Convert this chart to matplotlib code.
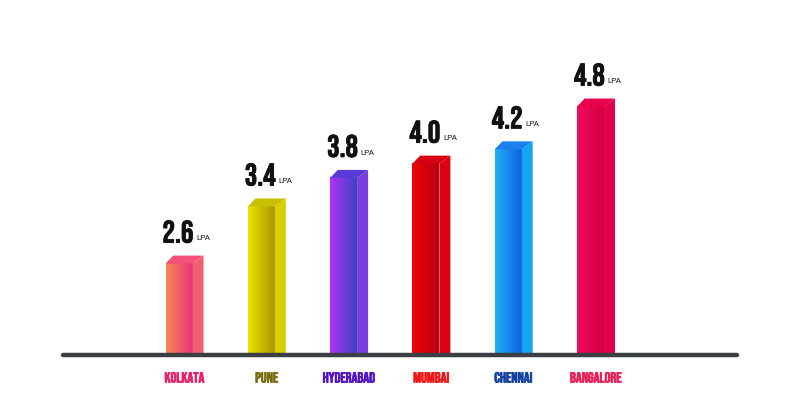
import matplotlib
matplotlib.use("Agg")
import matplotlib.pyplot as plt
import numpy as np
from matplotlib.colors import LinearSegmentedColormap
from matplotlib.patches import Polygon
import matplotlib.patheffects as pe

cities = ["KOLKATA", "PUNE", "HYDERABAD", "MUMBAI", "CHENNAI", "BANGALORE"]
salaries = [2.6, 3.4, 3.8, 4.0, 4.2, 4.8]
unit = "LPA"

front_left = ["#f88650", "#ece400", "#b232f2", "#f20404", "#1fb0f2", "#f20a62"]
front_right = ["#e8337e", "#a89800", "#3e42c6", "#b80014", "#1060e2", "#d40040"]
side_cols = ["#f2606e", "#d8d000", "#7a3ee0", "#dc0012", "#14a6f2", "#e2004e"]
top_cols = ["#f5507a", "#c8c000", "#5a3ad8", "#d80010", "#1a80ee", "#e8004c"]
label_cols = ["#e8206a", "#7a6e10", "#5212c0", "#f01414", "#1440a0", "#e82058"]

cond = ["Bebas Neue", "DejaVu Sans"]

W, H = 800, 395
fig = plt.figure(figsize=(W / 100, H / 100), dpi=100)
# axes: baseline at pixel y=355, x from 60 to 740
ax = fig.add_axes([60 / W, (H - 355) / H, 680 / W, 335 / H])
ymin, ymax = 1.32, 1.32 + 335 / 71.4
x0 = -1.513
x1 = 6.75
ax.set_xlim(x0, x1)
ax.set_ylim(ymin, ymax)
ax.axis("off")

px_x = (x1 - x0) / 680.0  # data units per pixel (x)
px_y = (ymax - ymin) / 335.0

fw = 27 * px_x   # front width
sw = 11 * px_x   # side width
dy = 8 * px_y    # top depth

for i, v in enumerate(salaries):
    cx = i
    L = cx - (fw + sw) / 2
    R = L + fw
    # front face gradient
    cmap = LinearSegmentedColormap.from_list(f"g{i}", [front_left[i], front_right[i]])
    grad = np.linspace(0, 1, 64).reshape(1, -1)
    ax.imshow(grad, cmap=cmap, extent=[L, R, ymin, v], aspect="auto",
              interpolation="bilinear", zorder=2)
    # side face
    side = Polygon([[R, ymin], [R + sw, ymin], [R + sw, v + dy], [R, v]],
                   closed=True, facecolor=side_cols[i], edgecolor="none", zorder=2)
    ax.add_patch(side)
    # top face
    top = Polygon([[L, v], [R, v], [R + sw, v + dy], [L + sw * 0.7, v + dy]],
                  closed=True, facecolor=top_cols[i], edgecolor="none", zorder=3)
    ax.add_patch(top)
    # value label
    t = ax.text(L - 3 * px_x, v + dy + 13 * px_y, f"{v:.1f}", fontsize=22.5,
                family=cond, color="#111111", ha="left", va="baseline", zorder=4,
                path_effects=[pe.withStroke(linewidth=0.6, foreground="#111111")])
    ax.annotate(unit, xy=(1, 0), xycoords=t, xytext=(2, 0.3), textcoords="offset points",
                fontsize=5.5, family="Liberation Sans", color="#111111",
                ha="left", va="bottom")
    # category label
    ax.text(cx, ymin - 22 * px_y, cities[i], fontsize=10.5,
            family=cond, color=label_cols[i], ha="center", va="center",
            path_effects=[pe.withStroke(linewidth=0.5, foreground=label_cols[i])])

ax.plot([x0 + 3 * px_x, x1 - 3 * px_x], [ymin, ymin], color="#3b3e43", lw=3.2,
        solid_capstyle="round", zorder=5, clip_on=False)

fig.savefig("out.png", dpi=100, facecolor="white")
